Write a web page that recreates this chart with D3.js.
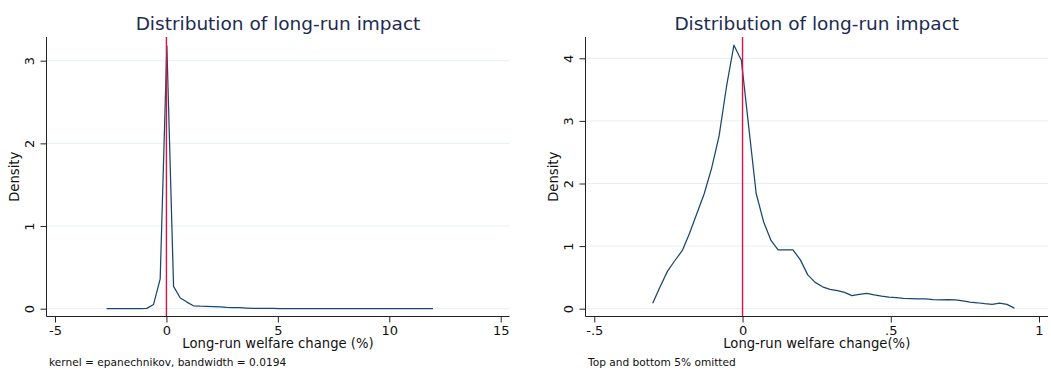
<!DOCTYPE html>
<html>
<head>
<meta charset="utf-8">
<script src="https://cdn.jsdelivr.net/npm/d3@7"></script>
<style>
  html, body { margin: 0; padding: 0; background: #fff; }
  svg { display: block; font-family: "DejaVu Sans", sans-serif; }
</style>
</head>
<body>
<svg id="chart" width="1051" height="372"></svg>
<script>
// Kernel density of long-run welfare change, all observations
const leftX = [-2.68, -2.38, -2.08, -1.78, -1.48, -1.18, -0.88, -0.58, -0.28, 0.02,
  0.32, 0.62, 0.92, 1.21, 1.51, 1.81, 2.11, 2.41, 2.71, 3.01,
  3.30, 3.60, 3.90, 4.20, 4.50, 4.80, 5.10, 5.39, 5.69, 5.99,
  6.29, 6.59, 6.89, 7.19, 7.48, 7.78, 8.08, 8.38, 8.68, 8.98,
  9.28, 9.57, 9.87, 10.17, 10.47, 10.77, 11.07, 11.37, 11.66, 11.96];
const leftDensity = [0.001, 0.001, 0.001, 0.001, 0.002, 0.002, 0.004, 0.05, 0.36, 3.18,
  0.27, 0.13, 0.08, 0.035, 0.03, 0.028, 0.026, 0.022, 0.016, 0.014,
  0.012, 0.008, 0.005, 0.004, 0.003, 0.003, 0.002, 0.002, 0.002, 0.002,
  0.002, 0.002, 0.001, 0.001, 0.001, 0.001, 0.001, 0.001, 0.001, 0.001,
  0.001, 0.001, 0.001, 0.001, 0.001, 0.001, 0.001, 0.001, 0.001, 0.001];

// Kernel density with the top and bottom 5% trimmed
const rightX = [-0.303, -0.278, -0.253, -0.228, -0.203, -0.179, -0.154, -0.129, -0.104, -0.079,
  -0.054, -0.029, -0.004, 0.021, 0.046, 0.071, 0.096, 0.120, 0.145, 0.170,
  0.195, 0.220, 0.245, 0.270, 0.295, 0.320, 0.344, 0.369, 0.394, 0.419,
  0.444, 0.469, 0.494, 0.519, 0.543, 0.568, 0.593, 0.618, 0.643, 0.668,
  0.693, 0.718, 0.743, 0.767, 0.792, 0.817, 0.842, 0.867, 0.892, 0.917];
const rightDensity = [0.086, 0.35, 0.60, 0.77, 0.93, 1.20, 1.52, 1.84, 2.25, 2.76,
  3.55, 4.21, 3.97, 2.90, 1.84, 1.39, 1.09, 0.94, 0.94, 0.94,
  0.78, 0.54, 0.42, 0.35, 0.31, 0.29, 0.26, 0.21, 0.23, 0.245,
  0.22, 0.20, 0.185, 0.175, 0.165, 0.16, 0.155, 0.155, 0.145, 0.14,
  0.145, 0.14, 0.125, 0.105, 0.095, 0.08, 0.07, 0.09, 0.07, 0.01];

const leftXTicks = [-5, 0, 5, 10, 15];
const leftXTickLabels = ["-5", "0", "5", "10", "15"];
const leftYTicks = [0, 1, 2, 3];
const rightXTicks = [-0.5, 0, 0.5, 1];
const rightXTickLabels = ["-.5", "0", ".5", "1"];
const rightYTicks = [0, 1, 2, 3, 4];

const titleText = "Distribution of long-run impact";
const refLineAt = 0;

const svg = d3.select("#chart");

function drawPanel(p) {
  const g = svg.append("g");
  const x = d3.scaleLinear().domain(p.xDomain).range(p.xRange);
  const y = d3.scaleLinear().domain(p.yDomain).range(p.yRange);

  // horizontal grid
  g.append("g").selectAll("line").data(p.yTicks).join("line")
    .attr("x1", p.left).attr("x2", p.right)
    .attr("y1", d => y(d)).attr("y2", d => y(d))
    .attr("stroke", "#e6eff1").attr("stroke-width", 1);

  // density curve
  const pts = p.xs.map((v, i) => [v, p.ys[i]]);
  g.append("path").datum(pts)
    .attr("fill", "none")
    .attr("stroke", "#1a476f")
    .attr("stroke-width", 1.25)
    .attr("stroke-linejoin", "round")
    .attr("d", d3.line().x(d => x(d[0])).y(d => y(d[1])));

  // reference line at zero
  g.append("line")
    .attr("x1", x(refLineAt)).attr("x2", x(refLineAt))
    .attr("y1", p.top).attr("y2", p.bottom)
    .attr("stroke", "#dc1340").attr("stroke-width", 1.4);

  // x axis
  const xAxis = d3.axisBottom(x).tickValues(p.xTicks)
    .tickFormat((d, i) => p.xTickLabels[i]).tickSize(6).tickSizeOuter(0);
  const gx = g.append("g").attr("transform", `translate(0,${p.bottom})`).call(xAxis);
  gx.select(".domain").remove();
  gx.selectAll(".tick line").attr("stroke", "#222");
  gx.selectAll(".tick text")
    .attr("y", 18.5).attr("dy", 0)
    .attr("fill", "#111").style("font-size", "13px")
    .style("font-family", "DejaVu Sans");
  g.append("line")
    .attr("x1", p.left).attr("x2", p.right)
    .attr("y1", p.bottom).attr("y2", p.bottom)
    .attr("stroke", "#222").attr("stroke-width", 1);

  // y axis with vertical labels
  const yAxis = d3.axisLeft(y).tickValues(p.yTicks).tickFormat(d3.format("d"))
    .tickSize(6).tickSizeOuter(0);
  const gy = g.append("g").attr("transform", `translate(${p.left},0)`).call(yAxis);
  gy.select(".domain").remove();
  gy.selectAll(".tick line").attr("stroke", "#222");
  gy.selectAll(".tick text")
    .attr("transform", "rotate(-90)")
    .attr("x", 0).attr("y", -12.5).attr("dy", 0)
    .attr("text-anchor", "middle")
    .attr("fill", "#111").style("font-size", "13px")
    .style("font-family", "DejaVu Sans");
  g.append("line")
    .attr("x1", p.left).attr("x2", p.left)
    .attr("y1", p.top).attr("y2", p.bottom)
    .attr("stroke", "#222").attr("stroke-width", 1);

  // title
  g.append("text")
    .attr("x", (p.left + p.right) / 2).attr("y", 29.5)
    .attr("text-anchor", "middle")
    .attr("fill", "#1c2b52").style("font-size", "18.5px")
    .text(titleText);

  // axis titles
  g.append("text")
    .attr("x", (p.left + p.right) / 2).attr("y", 348)
    .attr("text-anchor", "middle")
    .attr("fill", "#111").style("font-size", "13.2px")
    .text(p.xTitle);
  g.append("text")
    .attr("transform", `translate(${p.left - 27.5},${(p.top + p.bottom) / 2}) rotate(-90)`)
    .attr("text-anchor", "middle")
    .attr("fill", "#111").style("font-size", "13.2px")
    .text("Density");

  // note below the graph
  g.append("text")
    .attr("x", p.left + 2.5).attr("y", 365.5)
    .attr("fill", "#111").style("font-size", "10.6px")
    .text(p.note);
}

drawPanel({
  xs: leftX, ys: leftDensity,
  xDomain: [-5, 15], xRange: [55, 500.7],
  yDomain: [0, 3], yRange: [308.7, 60.7],
  left: 46.5, right: 509.5, top: 37, bottom: 316.5,
  xTicks: leftXTicks, xTickLabels: leftXTickLabels, yTicks: leftYTicks,
  xTitle: "Long-run welfare change (%)",
  note: "kernel = epanechnikov, bandwidth = 0.0194"
});

drawPanel({
  xs: rightX, ys: rightDensity,
  xDomain: [-0.5, 1], xRange: [594.3, 1039],
  yDomain: [0, 4], yRange: [308.7, 58.3],
  left: 585.5, right: 1048, top: 37, bottom: 316.5,
  xTicks: rightXTicks, xTickLabels: rightXTickLabels, yTicks: rightYTicks,
  xTitle: "Long-run welfare change(%)",
  note: "Top and bottom 5% omitted"
});
</script>
</body>
</html>
